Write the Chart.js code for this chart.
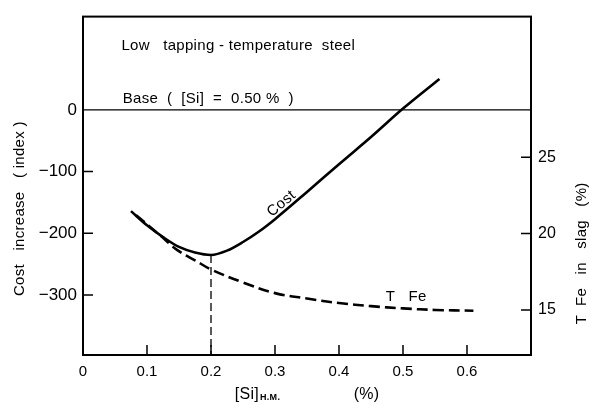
<!DOCTYPE html>
<html lang="en">
<head>
    <meta charset="UTF-8">
    <title>Cost increase vs [Si] H.M.</title>
    <script src="https://cdn.jsdelivr.net/npm/chart.js"></script>
    <style>
        body { margin: 0; background: #fff; }
        #wrap { width: 589px; height: 405px; }
    </style>
</head>
<body>
    <div id="wrap"><canvas id="siChart"></canvas></div>

    <script>
        // values
        const costX = [0.075, 0.1, 0.125, 0.15, 0.175, 0.2, 0.225, 0.25, 0.275, 0.3, 0.35, 0.4, 0.45, 0.5, 0.557];
        const costY = [-164, -187, -206, -222, -231, -235, -228, -214, -197, -177, -133, -88, -44, 2, 50];

        const tfeX = [0.083, 0.12, 0.148, 0.175, 0.2, 0.25, 0.3, 0.35, 0.4, 0.45, 0.5, 0.55, 0.61];
        const tfeY = [21.2, 19.9, 18.9, 18.25, 17.65, 16.8, 16.1, 15.75, 15.45, 15.25, 15.1, 15.0, 14.95];

        const baseX = [0, 0.7];
        const baseY = [0, 0];

        const dropX = [0.2, 0.2];
        const dropY = [-235, -397];

        const xTicks = [0, 0.1, 0.2, 0.3, 0.4, 0.5, 0.6];
        const costTicks = [0, -100, -200, -300];
        const tfeTicks = [15, 20, 25];

        const FONT = 'Liberation Sans, Arial, sans-serif';

        function pts(xs, ys) {
            return xs.map((x, i) => ({ x: x, y: ys[i] }));
        }

        function fixTicks(list) {
            return function (scale) {
                scale.ticks = list.map(v => ({ value: v }));
            };
        }

        const framePlugin = {
            id: 'frame',
            afterDraw(chart) {
                const ctx = chart.ctx;
                const a = chart.chartArea;
                const sx = chart.scales.x, sy = chart.scales.y, sy2 = chart.scales.y2;
                ctx.save();
                ctx.strokeStyle = '#000';
                ctx.lineWidth = 2;
                ctx.strokeRect(a.left, a.top, a.right - a.left, a.bottom - a.top);

                // inward tick marks
                ctx.lineWidth = 1.5;
                ctx.beginPath();
                xTicks.slice(1).forEach(v => {
                    const px = sx.getPixelForValue(v);
                    ctx.moveTo(px, a.bottom); ctx.lineTo(px, a.bottom - 10);
                });
                costTicks.slice(1).forEach(v => {
                    const py = sy.getPixelForValue(v);
                    ctx.moveTo(a.left, py); ctx.lineTo(a.left + 10, py);
                });
                tfeTicks.forEach(v => {
                    const py = sy2.getPixelForValue(v);
                    ctx.moveTo(a.right, py); ctx.lineTo(a.right - 10, py);
                });
                ctx.stroke();

                // annotations
                ctx.fillStyle = '#000';
                ctx.font = '15px ' + FONT;
                ctx.textBaseline = 'middle';
                ctx.textAlign = 'left';
                ctx.letterSpacing = '0.3px';
                ctx.fillText('Low   tapping - temperature  steel', sx.getPixelForValue(0.06), sy.getPixelForValue(103));
                ctx.fillText('Base  (  [Si]  =  0.50 %  )', sx.getPixelForValue(0.062), sy.getPixelForValue(17));
                ctx.fillText('T   Fe', sx.getPixelForValue(0.473), sy2.getPixelForValue(15.85));

                ctx.save();
                ctx.translate(sx.getPixelForValue(0.31), sy.getPixelForValue(-152));
                ctx.rotate(-40 * Math.PI / 180);
                ctx.textAlign = 'center';
                ctx.fillText('Cost', 0, 0);
                ctx.restore();

                // x axis title with subscript
                const ty = a.bottom + 40;
                let tx = sx.getPixelForValue(0.237);
                ctx.font = '16px ' + FONT;
                ctx.fillText('[Si]', tx, ty);
                tx += ctx.measureText('[Si]').width + 1;
                ctx.font = 'bold 9px ' + FONT;
                ctx.fillText('H.M.', tx, ty + 3);
                ctx.font = '16px ' + FONT;
                ctx.fillText('(%)', sx.getPixelForValue(0.423), ty);

                // axis titles, reading bottom to top
                ctx.font = '15px ' + FONT;
                ctx.textAlign = 'center';
                ctx.save();
                ctx.translate(20, sy.getPixelForValue(-160));
                ctx.rotate(-Math.PI / 2);
                ctx.fillText('Cost   increase   ( index )', 0, 0);
                ctx.restore();

                ctx.save();
                ctx.translate(a.right + 51, sy2.getPixelForValue(18.7));
                ctx.rotate(-Math.PI / 2);
                ctx.fillText('T  Fe   in   slag   (%)', 0, 0);
                ctx.restore();

                ctx.restore();
            }
        };

        const line = { fill: false, pointRadius: 0, borderColor: '#000' };

        new Chart(document.getElementById('siChart'), {
            type: 'line',
            data: {
                datasets: [
                    Object.assign({}, line, {
                        label: 'Cost',
                        data: pts(costX, costY),
                        yAxisID: 'y',
                        borderWidth: 2.6,
                        cubicInterpolationMode: 'monotone'
                    }),
                    Object.assign({}, line, {
                        label: 'T Fe',
                        data: pts(tfeX, tfeY),
                        yAxisID: 'y2',
                        borderWidth: 2.6,
                        borderDash: [11, 5],
                        tension: 0.4
                    }),
                    Object.assign({}, line, {
                        label: 'Base',
                        data: pts(baseX, baseY),
                        yAxisID: 'y',
                        borderWidth: 1.2
                    }),
                    Object.assign({}, line, {
                        label: 'Minimum',
                        data: pts(dropX, dropY),
                        yAxisID: 'y',
                        borderWidth: 1.3,
                        borderDash: [8, 4]
                    })
                ]
            },
            options: {
                responsive: true,
                maintainAspectRatio: false,
                animation: false,
                layout: { padding: { top: 10, left: 0, right: 0, bottom: 0 } },
                plugins: {
                    legend: { display: false },
                    tooltip: { enabled: false }
                },
                scales: {
                    x: {
                        type: 'linear',
                        min: 0,
                        max: 0.7,
                        grid: { display: false, drawTicks: false },
                        border: { display: false },
                        afterBuildTicks: fixTicks(xTicks),
                        afterFit: s => { s.height = 50; },
                        ticks: {
                            color: '#000',
                            padding: 8,
                            font: { family: FONT, size: 15 },
                            callback: v => v === 0 ? '0' : v.toFixed(1)
                        }
                    },
                    y: {
                        position: 'left',
                        min: -397,
                        max: 151,
                        grid: { display: false, drawTicks: false },
                        border: { display: false },
                        afterBuildTicks: fixTicks(costTicks),
                        afterFit: s => { s.width = 83; },
                        ticks: {
                            color: '#000',
                            padding: 6,
                            font: { family: FONT, size: 17 },
                            callback: v => v === 0 ? '0' : '\u2212' + Math.abs(v)
                        }
                    },
                    y2: {
                        position: 'right',
                        min: 12.05,
                        max: 34.2,
                        grid: { display: false, drawTicks: false },
                        border: { display: false },
                        afterBuildTicks: fixTicks(tfeTicks),
                        afterFit: s => { s.width = 58; },
                        ticks: {
                            color: '#000',
                            padding: 7,
                            font: { family: FONT, size: 16 }
                        }
                    }
                }
            },
            plugins: [framePlugin]
        });
    </script>
</body>
</html>
